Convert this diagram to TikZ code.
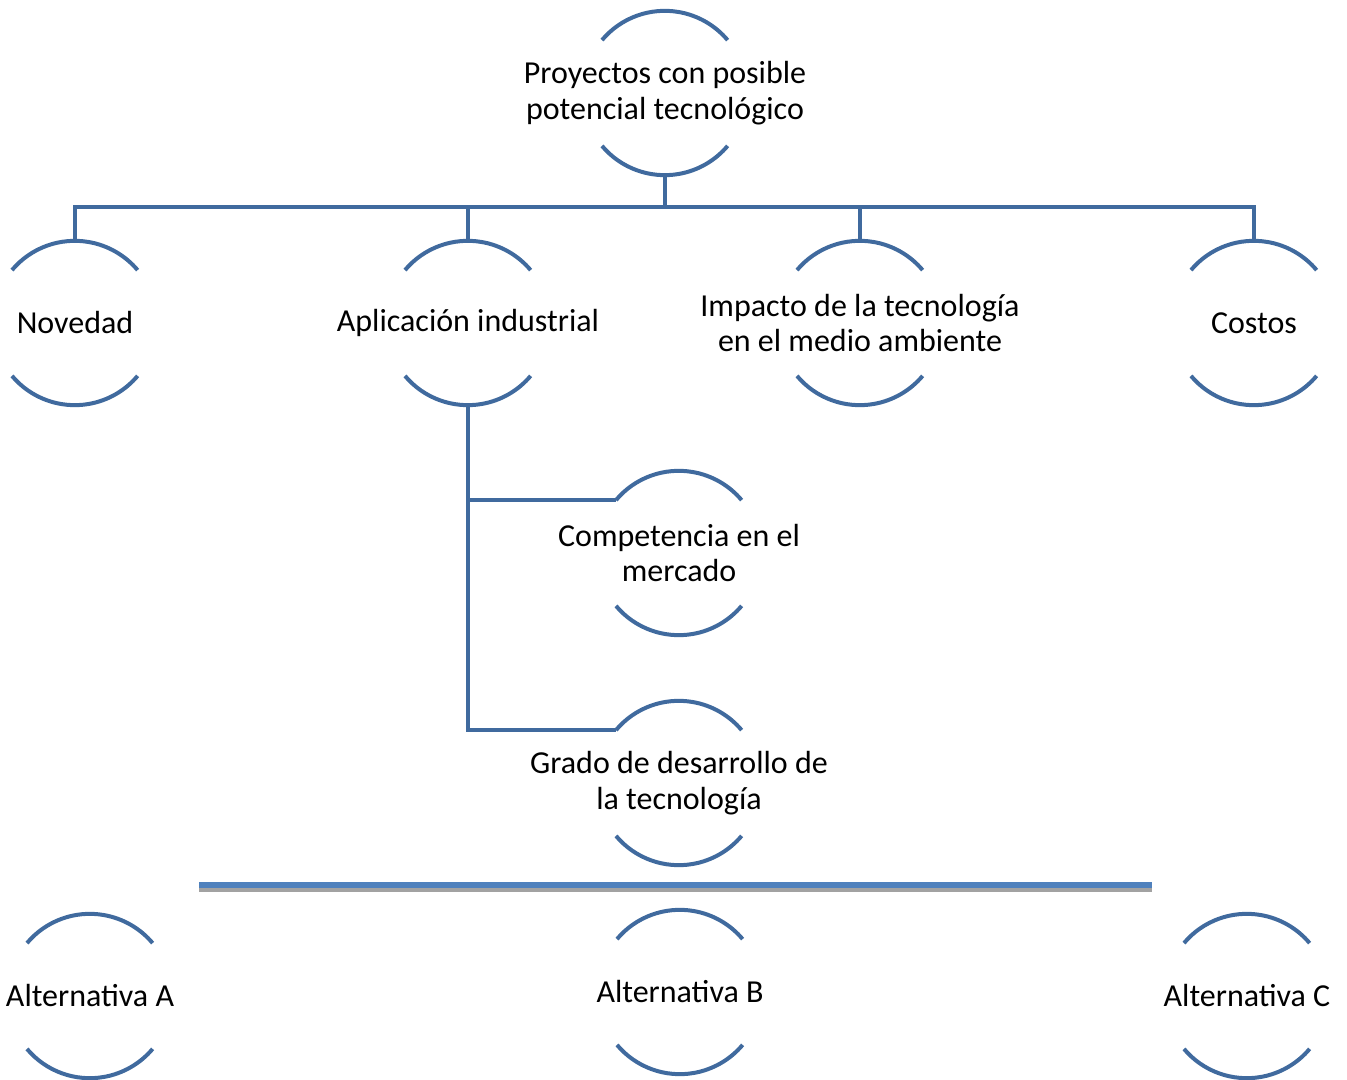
\documentclass[tikz,border=0pt]{standalone}
\usepackage{fontspec}
\setmainfont{Carlito}
\definecolor{arcblue}{RGB}{64,106,158}
\definecolor{barblue}{RGB}{79,129,189}
\definecolor{bargray}{RGB}{162,162,162}
\begin{document}
\begin{tikzpicture}[x=0.75pt,y=-0.75pt,
  ring/.style={circle,minimum size=123pt,inner sep=0pt},
  caption/.style={align=center,inner sep=0pt,
    font=\fontsize{24}{26.5}\selectfont},
  link/.style={draw=arcblue,line width=3pt},
  rim/.style={draw=arcblue,line width=3pt}]
\useasboundingbox (0,0) rectangle (1347,1080);

% rings (centres in pixel coordinates)
\node[ring] (top)   at (665,93)   {};
\node[ring] (nov)   at (75,323)   {};
\node[ring] (apl)   at (468,323)  {};
\node[ring] (imp)   at (860,323)  {};
\node[ring] (cost)  at (1254,323) {};
\node[ring] (comp)  at (679,553)  {};
\node[ring] (grado) at (679,783)  {};
\node[ring] (altA)  at (90,996)   {};
\node[ring] (altB)  at (680,992)  {};
\node[ring] (altC)  at (1247,996) {};

% captions
\node[caption] (top-t)   at (top)   {Proyectos con posible\\potencial tecnológico};
\node[caption] (nov-t)   at (nov)   {Novedad};
\node[caption] (apl-t)   at (apl)   {Aplicación industrial};
\node[caption] (imp-t)   at (imp)   {Impacto de la tecnología\\en el medio ambiente};
\node[caption] (cost-t)  at (cost)  {Costos};
\node[caption] (comp-t)  at (comp)  {Competencia en el\\mercado};
\node[caption] (grado-t) at (grado) {Grado de desarrollo de\\la tecnología};
\node[caption] (altA-t)  at (altA)  {Alternativa A};
\node[caption] (altB-t)  at (altB)  {Alternativa B};
\node[caption] (altC-t)  at (altC)  {Alternativa C};

% upper and lower rims of every ring
\foreach \n in {top,nov,apl,imp,cost,comp,grado,altA,altB,altC}{
  \draw[rim] (\n.140) arc[start angle=140,end angle=40,radius=61.5pt];
  \draw[rim] (\n.220) arc[start angle=220,end angle=320,radius=61.5pt];
}

% hierarchy connectors
\coordinate (bus) at (665,207);
\draw[link] (top.south) -- (bus);
\draw[link] (nov.north) |- (bus) -| (cost.north);
\draw[link] (apl.north) -- (apl.north |- bus);
\draw[link] (imp.north) -- (imp.north |- bus);
\draw[link] (apl.south) |- (comp.140);
\draw[link] (apl.south) |- (grado.140);

% separator bar with its shadow
\fill[bargray] (199,887) rectangle (1152,891.5);
\fill[barblue] (199,882) rectangle (1152,887.5);
\end{tikzpicture}
\end{document}
